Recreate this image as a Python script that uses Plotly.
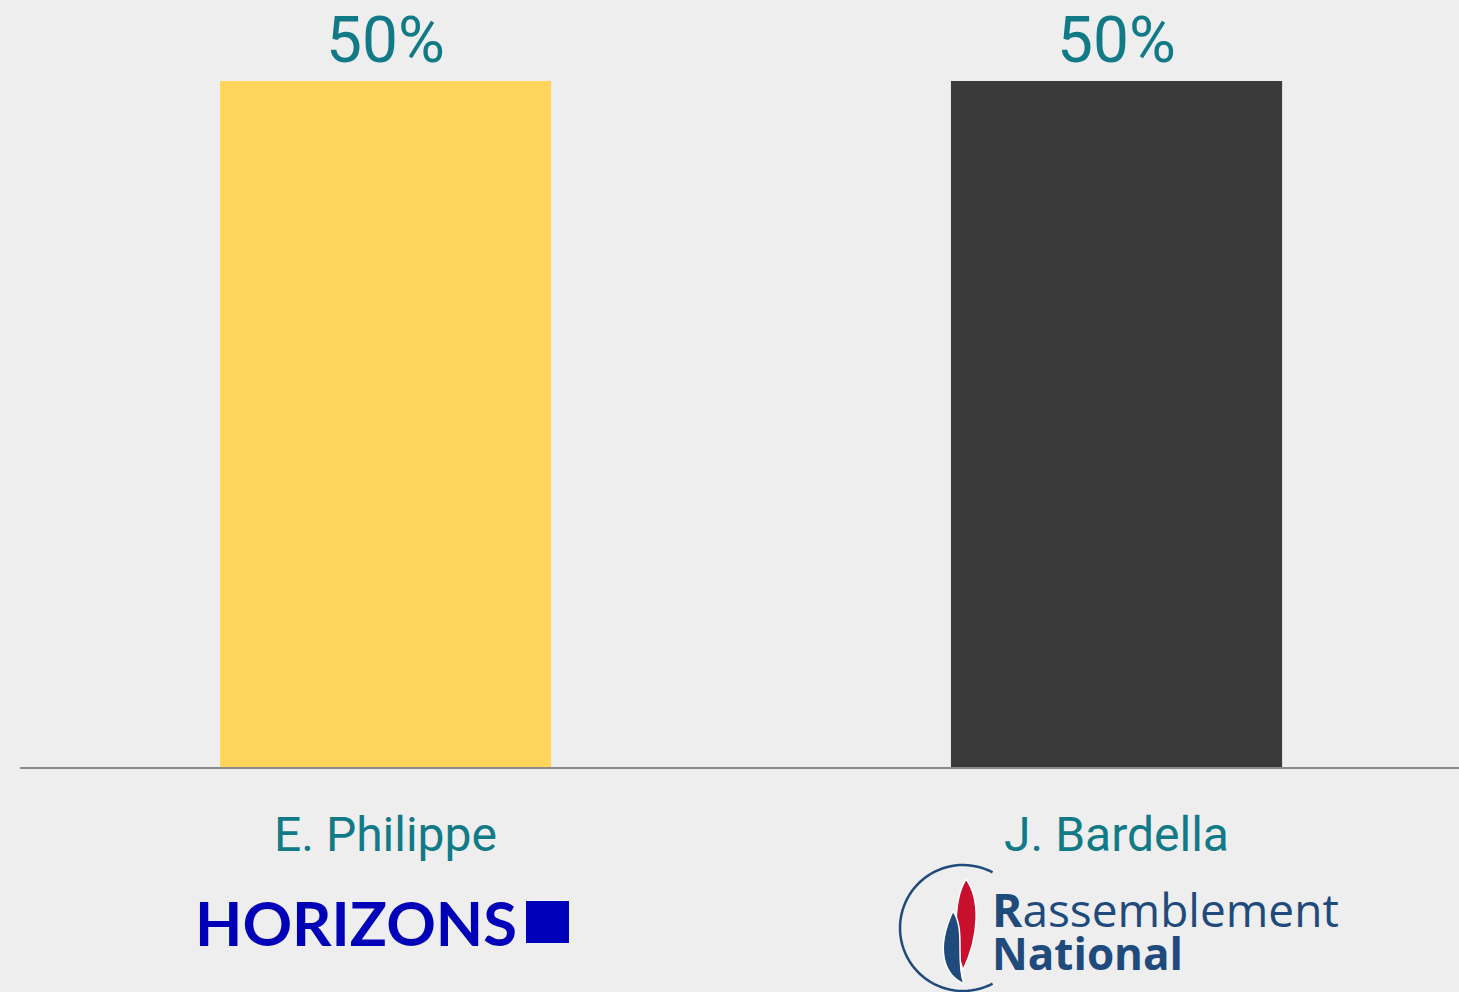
import math
import plotly.graph_objects as go

# ---- data ----
candidates = ["E. Philippe", "J. Bardella"]
values = [50, 50]
value_labels = ["50%", "50%"]
bar_colors = ["#FFD55C", "#3A3A3A"]

W, H = 1459, 992
ML, MR, MT, MB = 20, 0, 0, 225
PW, PH = W - ML - MR, H - MT - MB

def px(x, y):
    return (x - ML) / PW, (H - MB - y) / PH

def path_from(points_cmds):
    s = ""
    for cmd, pts in points_cmds:
        s += cmd
        s += " ".join("%.5f,%.5f" % px(x, y) for x, y in pts) + " "
    return s + "Z"

BG = "#EEEEEE"
TEAL = "#117A86"
RNBLUE = "#1F4A7C"

fig = go.Figure()
fig.add_trace(go.Bar(
    x=candidates, y=values, marker=dict(color=bar_colors, line=dict(width=0)),
    width=0.453, text=value_labels, textposition="outside",
    textfont=dict(family="Roboto", size=64, color=TEAL),
    cliponaxis=False, constraintext="none", hoverinfo="skip",
))

shapes = []
annotations = []

# HORIZONS logo
annotations.append(dict(xref="paper", yref="paper", x=px(193, 0)[0], y=px(0, 922)[1],
                        xanchor="left", yanchor="middle", showarrow=False,
                        text="<b>HORIZONS</b>",
                        font=dict(family="Lato", size=61.5, color="#0000B8")))
x0, y0 = px(526, 943)
x1, y1 = px(569, 901)
shapes.append(dict(type="rect", xref="paper", yref="paper", x0=x0, y0=y0, x1=x1, y1=y1,
                   fillcolor="#0000B8", line=dict(width=0)))

# RN logo: arc
cx, cy, r = 963, 928, 63
pts = []
for i in range(0, 61):
    a = math.radians(-62 - i * (236 / 60))
    pts.append((cx + r * math.cos(a), cy + r * math.sin(a)))
arc = "M" + " L".join("%.5f,%.5f" % px(x, y) for x, y in pts)
shapes.append(dict(type="path", xref="paper", yref="paper", path=arc,
                   line=dict(color=RNBLUE, width=2.5)))
# red flame
red = path_from([("M", [(966, 879)]),
                 ("C", [(980, 898), (980, 935), (963, 970)]),
                 ("C", [(957, 955), (950, 905), (966, 879)])])
shapes.append(dict(type="path", xref="paper", yref="paper", path=red,
                   fillcolor="#C8102E", line=dict(color="white", width=1.5)))
# blue flame
blue = path_from([("M", [(953, 911)]),
                  ("C", [(966, 930), (955, 960), (964, 984)]),
                  ("C", [(944, 975), (935, 950), (953, 911)])])
shapes.append(dict(type="path", xref="paper", yref="paper", path=blue,
                   fillcolor=RNBLUE, line=dict(color="white", width=1.5)))
annotations.append(dict(xref="paper", yref="paper", x=px(990, 0)[0], y=px(0, 909)[1],
                        xanchor="left", yanchor="middle", showarrow=False,
                        text="<b>R</b>assemblement",
                        font=dict(family="Open Sans", size=46, color=RNBLUE)))
annotations.append(dict(xref="paper", yref="paper", x=px(990, 0)[0], y=px(0, 953)[1],
                        xanchor="left", yanchor="middle", showarrow=False,
                        text="<b>National</b>",
                        font=dict(family="Open Sans", size=44, color=RNBLUE)))

fig.update_layout(
    width=W, height=H, margin=dict(l=ML, r=MR, t=MT, b=MB, pad=0),
    paper_bgcolor=BG, plot_bgcolor=BG, showlegend=False,
    bargap=0.5, shapes=shapes, annotations=annotations,
    xaxis=dict(type="category", range=[-0.5, 1.4685], showgrid=False,
               showline=True, linecolor="#8A8A8A", linewidth=2,
               ticks="outside", ticklen=24, tickcolor="rgba(0,0,0,0)",
               tickfont=dict(family="Roboto", size=48, color=TEAL),
               fixedrange=True),
    yaxis=dict(range=[0, 50 * PH / 686], visible=False, showgrid=False, zeroline=False,
               fixedrange=True),
)
fig.write_html("out.html", config={"displayModeBar": False, "staticPlot": True})

# remove default page margin so the figure sits at the window's top-left corner
with open("out.html", "r", encoding="utf-8") as f:
    html = f.read()
html = html.replace("<head>", "<head><style>html,body{margin:0;padding:0;background:#EEEEEE;}</style>", 1)
with open("out.html", "w", encoding="utf-8") as f:
    f.write(html)
